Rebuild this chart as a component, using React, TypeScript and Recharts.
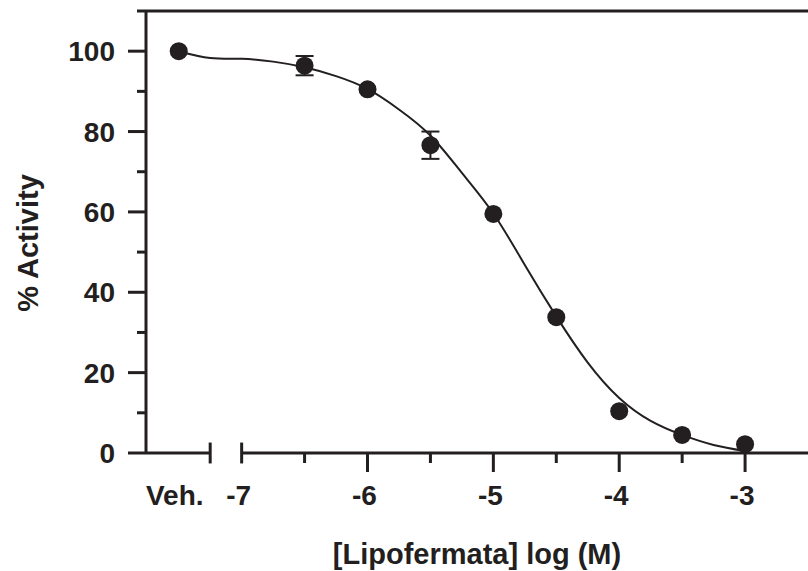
import React from 'react';
import {
  ComposedChart,
  Line,
  Scatter,
  ErrorBar,
  XAxis,
  YAxis,
  ReferenceLine,
} from 'recharts';

const INK = '#231f20';
const FONT = '"Liberation Sans", Arial, Helvetica, sans-serif';

// measured points: log dose (Veh. plotted at -7.5), % activity, SEM
const doses = [-7.5, -6.5, -6, -5.5, -5, -4.5, -4, -3.5, -3];
const activity = [100, 96.4, 90.5, 76.6, 59.5, 33.8, 10.4, 4.5, 2.2];
const sem = [null, 2.4, null, 3.4, null, null, null, null, null];

// fitted curve
const curveX = [-7.5, -7.25, -7, -6.75, -6.5, -6.25, -6, -5.75, -5.5, -5.25, -5, -4.75, -4.5, -4.25, -4, -3.75, -3.5, -3.25, -3];
const curveY = [100, 98.3, 98.1, 97.4, 96, 93.8, 90.6, 85.5, 79, 69.7, 59.6, 46.8, 34, 22.5, 13.7, 8, 4.5, 2, 0.5];

const xTicks = [-7.5, -7, -6.5, -6, -5.5, -5, -4.5, -4, -3.5, -3];
const xTickLabels: Record<string, string> = {
  '-7.5': 'Veh.',
  '-7': '-7',
  '-6': '-6',
  '-5': '-5',
  '-4': '-4',
  '-3': '-3',
};
const yTicks = [0, 10, 20, 30, 40, 50, 60, 70, 80, 90, 100, 110];

const points = doses.map((x, i) => ({ x, y: activity[i], err: sem[i] }));
const curve = curveX.map((x, i) => ({ x, y: curveY[i] }));

const XTick = (props: any) => {
  const { x, y, payload } = props;
  const v = payload.value;
  const label = xTickLabels[String(v)];
  const isVeh = v === -7.5;
  const isMajor = Number.isInteger(v) && v > -7;
  const isMinor = !Number.isInteger(v) && !isVeh;
  return (
    <g>
      {isMajor && <line x1={x} x2={x} y1={y} y2={y + 19} stroke={INK} strokeWidth={3} />}
      {isMinor && <line x1={x} x2={x} y1={y} y2={y + 10} stroke={INK} strokeWidth={3} />}
      {label && (
        <text
          x={x}
          y={y + 52}
          dx={isVeh ? -4 : -3}
          textAnchor="middle"
          fontFamily={FONT}
          fontWeight="bold"
          fontSize={28}
          fill={INK}
        >
          {label}
        </text>
      )}
    </g>
  );
};

const YTick = (props: any) => {
  const { x, y, payload } = props;
  const v = payload.value;
  const major = v % 20 === 0 && v <= 100;
  const len = major ? 18 : 9;
  return (
    <g>
      <line x1={x - len} x2={x} y1={y} y2={y} stroke={INK} strokeWidth={3} />
      {major && (
        <text
          x={x - 31}
          y={y}
          dy={10}
          textAnchor="end"
          fontFamily={FONT}
          fontWeight="bold"
          fontSize={28}
          fill={INK}
        >
          {v}
        </text>
      )}
    </g>
  );
};

const Dot = (props: any) => <circle cx={props.cx} cy={props.cy} r={9} fill={INK} />;

export default function App() {
  return (
    <div style={{ width: 808, height: 571, background: '#fff' }}>
      <style>{'body{margin:0}'}</style>
      <ComposedChart width={808} height={571} margin={{ top: 11, right: 0, bottom: 0, left: 0 }}>
        <XAxis
          type="number"
          dataKey="x"
          domain={[-7.76, -2.5]}
          allowDataOverflow
          ticks={xTicks}
          interval={0}
          tick={<XTick />}
          tickSize={0}
          tickMargin={0}
          tickLine={false}
          axisLine={false}
          height={118}
          label={{
            content: (p: any) => {
              const vb = p.viewBox;
              return (
                <text
                  x={vb.x + vb.width / 2}
                  y={vb.y + 111}
                  textAnchor="middle"
                  fontFamily={FONT}
                  fontWeight="bold"
                  fontSize={29}
                  fill={INK}
                >
                  [Lipofermata] log (M)
                </text>
              );
            },
          }}
        />
        <YAxis
          type="number"
          dataKey="y"
          domain={[0, 110]}
          allowDataOverflow
          ticks={yTicks}
          interval={0}
          tick={<YTick />}
          tickSize={0}
          tickMargin={0}
          tickLine={false}
          axisLine={{ stroke: INK, strokeWidth: 3 }}
          width={146}
          label={{
            content: () => (
              <text
                x={38}
                y={243}
                transform="rotate(-90, 38, 243)"
                textAnchor="middle"
                fontFamily={FONT}
                fontWeight="bold"
                fontSize={29}
                fill={INK}
              >
                % Activity
              </text>
            ),
          }}
        />
        <ReferenceLine y={110} stroke={INK} strokeWidth={3} ifOverflow="visible" />
        <ReferenceLine
          segment={[{ x: -7.76, y: 0 }, { x: -7.25, y: 0 }]}
          stroke={INK}
          strokeWidth={3}
          ifOverflow="visible"
        />
        <ReferenceLine
          segment={[{ x: -7, y: 0 }, { x: -2.5, y: 0 }]}
          stroke={INK}
          strokeWidth={3}
          ifOverflow="visible"
        />
        <ReferenceLine
          segment={[{ x: -7.25, y: -2.6 }, { x: -7.25, y: 2.6 }]}
          stroke={INK}
          strokeWidth={3}
          ifOverflow="visible"
        />
        <ReferenceLine
          segment={[{ x: -7, y: -2.6 }, { x: -7, y: 2.6 }]}
          stroke={INK}
          strokeWidth={3}
          ifOverflow="visible"
        />
        <Line
          data={curve}
          dataKey="y"
          type="natural"
          dot={false}
          stroke={INK}
          strokeWidth={2}
          isAnimationActive={false}
        />
        <Scatter data={points} dataKey="y" shape={<Dot />} isAnimationActive={false}>
          <ErrorBar dataKey="err" direction="y" width={9} stroke={INK} strokeWidth={2} />
        </Scatter>
      </ComposedChart>
    </div>
  );
}
